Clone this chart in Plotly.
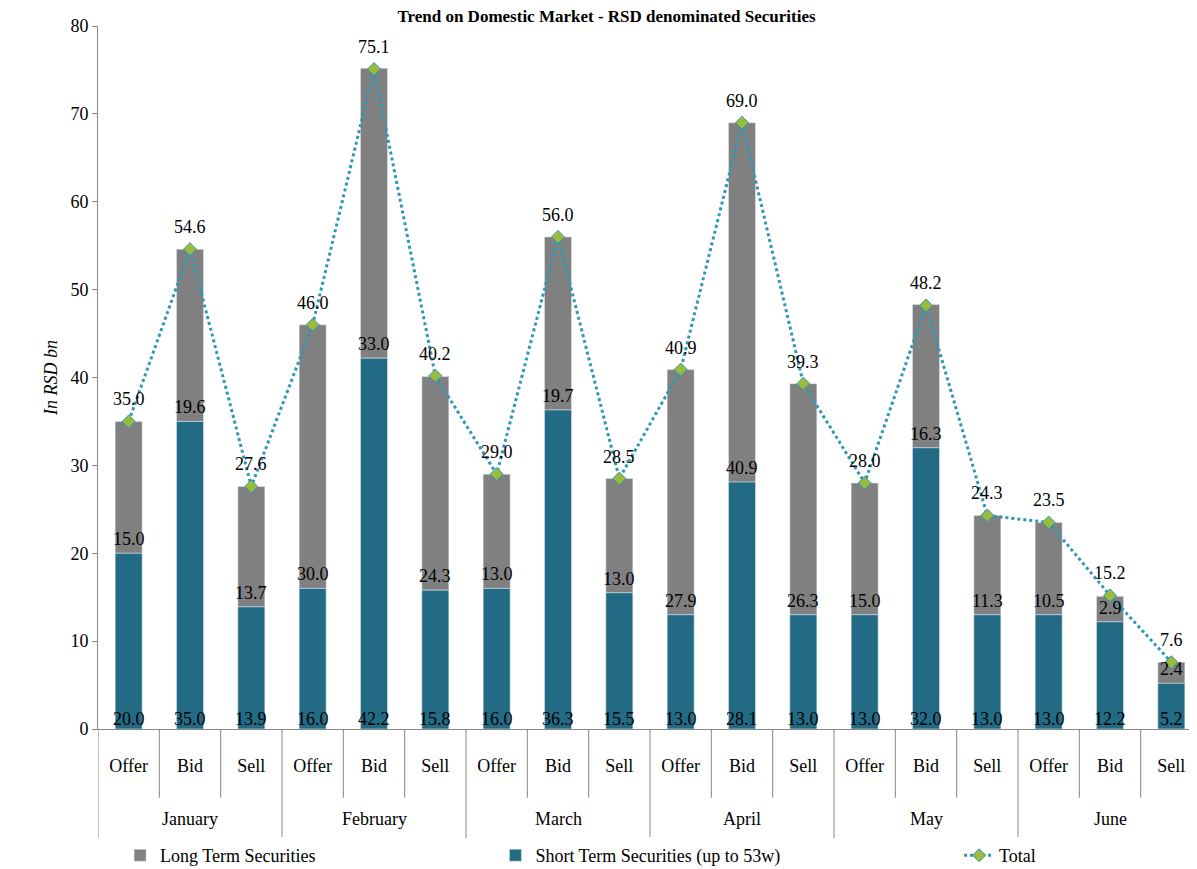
import plotly.graph_objects as go

months = ["January", "February", "March", "April", "May", "June"]
subcats = ["Offer", "Bid", "Sell"]
short_term = [20.0, 35.0, 13.9, 16.0, 42.2, 15.8, 16.0, 36.3, 15.5, 13.0, 28.1, 13.0, 13.0, 32.0, 13.0, 13.0, 12.2, 5.2]
long_term = [15.0, 19.6, 13.7, 30.0, 33.0, 24.3, 13.0, 19.7, 13.0, 27.9, 40.9, 26.3, 15.0, 16.3, 11.3, 10.5, 2.9, 2.4]
total = [35.0, 54.6, 27.6, 46.0, 75.1, 40.2, 29.0, 56.0, 28.5, 40.9, 69.0, 39.3, 28.0, 48.2, 24.3, 23.5, 15.2, 7.6]

n = len(total)
xs = list(range(n))
ticklabels = [s for _ in months for s in subcats]
FONT = "Liberation Serif, Times New Roman, serif"

fig = go.Figure()
fig.add_trace(go.Bar(x=xs, y=long_term, base=short_term, name="Long Term Securities",
                     marker_color="#808080", width=0.44, legend="legend"))
fig.add_trace(go.Bar(x=xs, y=short_term, name="Short Term Securities (up to 53w)",
                     marker_color="#236B84", width=0.44, legend="legend2"))
fig.add_trace(go.Scatter(
    x=xs, y=total, name="Total", mode="lines+markers", legend="legend3",
    line=dict(color="#2E97B8", width=3, dash="dot"),
    marker=dict(symbol="diamond", size=10, color="#9BBB3B", line=dict(color="#2E97B8", width=1)),
))

# data labels
for i in xs:
    fig.add_annotation(x=i, y=0, text=f"{short_term[i]:.1f}", showarrow=False,
                       yanchor="bottom", yshift=-2)
    fig.add_annotation(x=i, y=short_term[i], text=f"{long_term[i]:.1f}", showarrow=False,
                       yanchor="bottom", yshift=2)
    fig.add_annotation(x=i, y=total[i], text=f"{total[i]:.1f}", showarrow=False,
                       yanchor="bottom", yshift=10)

# month labels and dividers
for k, m in enumerate(months):
    fig.add_annotation(x=3 * k + 1, y=-0.128, yref="paper", text=m, showarrow=False,
                       yanchor="middle")
for j in range(n + 1):
    bottom = -0.155 if j % 3 == 0 else -0.098
    fig.add_shape(type="line", x0=j - 0.5, x1=j - 0.5, y0=0, y1=bottom, yref="paper",
                  line=dict(color="#888", width=1))

leg = dict(orientation="h", y=-0.18, xanchor="left", yanchor="middle", font=dict(size=18))
fig.update_layout(
    barmode="overlay",
    width=1197, height=869,
    font=dict(family=FONT, size=18, color="black"),
    paper_bgcolor="white", plot_bgcolor="white",
    title=dict(text="<b>Trend on Domestic Market - RSD denominated Securities</b>",
               x=0.5, y=0.998, yanchor="top", font=dict(size=17)),
    margin=dict(l=90, r=3, t=18, b=148, autoexpand=False),
    showlegend=True,
    legend=dict(leg, x=0.02),
    legend2=dict(leg, x=0.36),
    legend3=dict(leg, x=0.78),
    yaxis=dict(range=[0, 80], dtick=10, title=dict(text="<i>In RSD bn</i>", font=dict(size=18), standoff=8),
               showgrid=False, showline=True, linecolor="#888", ticks="outside",
               tickcolor="#888", zeroline=False),
    xaxis=dict(range=[-0.5, n - 0.5], tickvals=xs, ticktext=ticklabels, showline=True,
               linecolor="#888", showgrid=False, ticks="", ticklabelstandoff=20),
)
fig.write_html("out.html")
